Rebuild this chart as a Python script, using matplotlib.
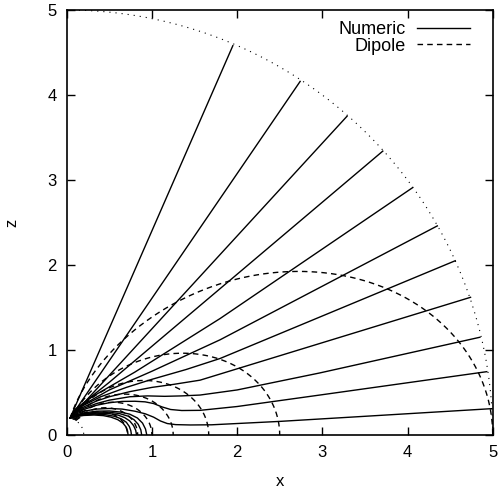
import numpy as np
import matplotlib
matplotlib.use("Agg")
import matplotlib.pyplot as plt
from matplotlib.lines import Line2D

plt.rcParams['font.family'] = ['Liberation Sans', 'DejaVu Sans']
plt.rcParams['font.size'] = 12

# numeric field lines (x, z)
start = (0.04, 0.20)
open_lines = [
    [start, (1.95, 4.58)],
    [start, (2.74, 4.16)],
    [start, (3.29, 3.75)],
    [start, (0.1, 0.3), (0.5, 0.62), (3.71, 3.34)],
    [start, (0.1, 0.30), (0.3, 0.45), (0.8, 0.74), (1.8, 1.37), (4.06, 2.91)],
    [start, (0.1, 0.29), (0.2, 0.36), (0.5, 0.53), (1.0, 0.75), (1.8, 1.12), (4.35, 2.46)],
    [start, (0.1, 0.285), (0.2, 0.35), (0.4, 0.45), (0.7, 0.56), (1.0, 0.655), (1.4, 0.77), (1.8, 0.90), (4.56, 2.05)],
    [start, (0.1, 0.275), (0.2, 0.33), (0.35, 0.40), (0.5, 0.45), (0.74, 0.51), (1.0, 0.56), (1.25, 0.595),
     (1.565, 0.645), (2.33, 0.88), (4.74, 1.62)],
    [start, (0.1, 0.265), (0.2, 0.315), (0.35, 0.37), (0.5, 0.41), (0.74, 0.45), (0.95, 0.46), (1.15, 0.455),
     (1.35, 0.46), (1.565, 0.47), (2.0, 0.53), (2.97, 0.73), (4.85, 1.15)],
    [start, (0.1, 0.255), (0.2, 0.30), (0.35, 0.35), (0.5, 0.38), (0.65, 0.395), (0.8, 0.397), (0.92, 0.39),
     (1.02, 0.37), (1.12, 0.33), (1.22, 0.30), (1.35, 0.288), (1.565, 0.29), (2.0, 0.335), (2.97, 0.47), (4.93, 0.745)],
    [start, (0.1, 0.245), (0.2, 0.28), (0.35, 0.305), (0.5, 0.312), (0.65, 0.305), (0.8, 0.28), (0.92, 0.25),
     (1.02, 0.21), (1.1, 0.165), (1.18, 0.135), (1.28, 0.122), (1.45, 0.118), (1.7, 0.12), (2.5, 0.16),
     (3.5, 0.22), (4.99, 0.31)],
]
closed_lines = [
    [start, (0.1, 0.215), (0.2, 0.23), (0.32, 0.235), (0.43, 0.228), (0.52, 0.21), (0.6, 0.18), (0.66, 0.14),
     (0.70, 0.09), (0.715, 0.045), (0.72, 0.0)],
    [start, (0.1, 0.22), (0.2, 0.237), (0.33, 0.245), (0.46, 0.238), (0.56, 0.22), (0.64, 0.19), (0.70, 0.15),
     (0.735, 0.10), (0.753, 0.05), (0.76, 0.0)],
    [start, (0.1, 0.225), (0.2, 0.245), (0.35, 0.256), (0.5, 0.252), (0.6, 0.235), (0.68, 0.205), (0.74, 0.165),
     (0.785, 0.11), (0.81, 0.055), (0.82, 0.0)],
    [start, (0.1, 0.23), (0.2, 0.252), (0.35, 0.268), (0.5, 0.268), (0.62, 0.252), (0.72, 0.222), (0.79, 0.18),
     (0.84, 0.125), (0.87, 0.06), (0.88, 0.0)],
    [start, (0.1, 0.235), (0.2, 0.26), (0.35, 0.28), (0.5, 0.283), (0.63, 0.27), (0.74, 0.245), (0.83, 0.20),
     (0.89, 0.14), (0.925, 0.07), (0.94, 0.0)],
]

# dipole field lines r = L sin^2(theta), equatorial crossing L
dipole_L = [5.0, 2.5, 1.667, 1.25, 1.0, 0.833, 0.714]
r_inner = 0.2
r_outer = 5.0

fig = plt.figure(figsize=(5.01, 4.93), dpi=100)
ax = fig.add_axes([66.7 / 501, 58 / 493, 426 / 501, 425 / 493])

for pts in open_lines + closed_lines:
    xs, zs = zip(*pts)
    ax.plot(xs, zs, color='black', lw=1.0)

for L in dipole_L:
    th = np.linspace(np.arcsin(np.sqrt(r_inner / L)), np.pi / 2, 300)
    r = L * np.sin(th) ** 2
    ax.plot(r * np.sin(th), r * np.cos(th), color='black', lw=1.0, ls=(0, (4, 3)))

th = np.linspace(0, np.pi / 2, 400)
ax.plot(r_outer * np.sin(th), r_outer * np.cos(th), color='black', lw=0.8, ls=(0, (1, 4.5)))
ax.plot(r_inner * np.sin(th), r_inner * np.cos(th), color='black', lw=0.8, ls=(0, (1, 4.5)))

ax.set_xlim(0, 5)
ax.set_ylim(0, 5)
ax.set_xticks(range(6))
ax.set_yticks(range(6))
ax.tick_params(direction='in', top=True, right=True, length=6, width=1, pad=7)
for s in ax.spines.values():
    s.set_linewidth(1.2)
ax.set_xlabel('x', labelpad=10)
ax.set_ylabel('z', labelpad=20)

handles = [Line2D([], [], color='black', lw=1.0),
           Line2D([], [], color='black', lw=1.0, ls=(0, (4, 3)))]
ax.legend(handles, ['Numeric', 'Dipole'], loc='upper right', bbox_to_anchor=(0.963, 0.99),
          frameon=False, markerfirst=False, handlelength=2.9, handletextpad=0.67,
          labelspacing=-0.05, borderaxespad=0, fontsize=13)

fig.savefig('out.png', dpi=100)
